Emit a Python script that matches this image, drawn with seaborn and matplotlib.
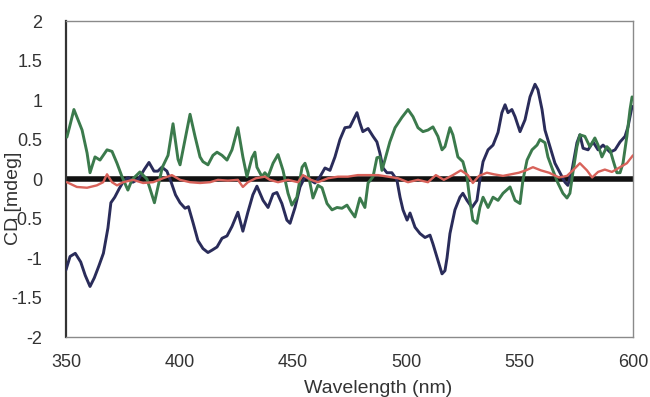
import numpy as np
import pandas as pd
import matplotlib
matplotlib.use("Agg")
import matplotlib.pyplot as plt
import seaborn as sns

# CD spectra (mdeg) versus wavelength (nm)
navy_nm = [350.0, 351.8, 354.1, 356.5, 358.5, 360.6, 362.5, 364.5, 366.5, 368.5,
           369.8, 371.5, 373.5, 375.5, 377.5, 379.5, 382.0, 384.5, 386.6, 388.8,
           390.5, 392.3, 394.5, 396.5, 398.3, 400.3, 402.5, 404.0, 406.0, 408.2,
           410.4, 412.6, 414.4, 416.6, 418.8, 421.0, 423.2, 425.8, 428.0, 430.2,
           432.4, 434.2, 436.9, 439.1, 441.3, 443.0, 445.2, 447.4, 448.8, 451.0,
           453.2, 455.4, 457.6, 459.8, 462.0, 464.2, 466.4, 468.6, 470.8, 473.0,
           475.2, 478.3, 479.6, 480.9, 483.2, 485.4, 487.1, 488.4, 489.8, 491.5,
           493.7, 495.9, 497.3, 498.6, 500.4, 501.7, 503.9, 506.1, 508.3, 510.5,
           511.8, 514.0, 515.8, 517.1, 518.0, 519.3, 521.5, 523.7, 525.0, 526.8,
           529.0, 531.2, 532.5, 533.9, 536.1, 538.3, 540.5, 542.2, 543.6, 544.9,
           546.6, 548.0, 550.2, 552.4, 554.6, 556.8, 558.1, 559.9, 561.2, 563.4,
           565.6, 567.8, 570.0, 571.3, 573.1, 575.3, 576.6, 578.0, 580.2, 582.4,
           584.6, 586.8, 589.9, 592.1, 594.3, 596.5, 597.8, 599.6]
navy_cd = [-1.15, -0.98, -0.94, -1.05, -1.22, -1.36, -1.25, -1.10, -0.94, -0.62,
           -0.30, -0.23, -0.12, -0.02, 0.02, -0.04, 0.00, 0.12, 0.21, 0.10,
           0.10, 0.15, 0.10, -0.05, -0.20, -0.30, -0.37, -0.35, -0.55, -0.78,
           -0.88, -0.93, -0.90, -0.86, -0.75, -0.72, -0.60, -0.42, -0.66, -0.42,
           -0.20, -0.09, -0.27, -0.36, -0.19, -0.17, -0.31, -0.52, -0.56, -0.36,
           -0.10, 0.03, -0.01, -0.05, 0.03, 0.14, 0.11, 0.28, 0.50, 0.65,
           0.66, 0.84, 0.71, 0.60, 0.64, 0.54, 0.47, 0.33, 0.14, 0.08,
           0.08, -0.01, -0.23, -0.39, -0.52, -0.43, -0.61, -0.69, -0.74, -0.71,
           -0.82, -1.03, -1.20, -1.16, -1.00, -0.69, -0.39, -0.23, -0.18, -0.27,
           -0.36, -0.27, -0.01, 0.22, 0.37, 0.43, 0.59, 0.84, 0.94, 0.84,
           0.88, 0.79, 0.60, 0.75, 1.04, 1.20, 1.13, 0.88, 0.62, 0.41,
           0.20, 0.08, -0.04, -0.08, 0.11, 0.46, 0.56, 0.39, 0.37, 0.47,
           0.37, 0.43, 0.34, 0.37, 0.47, 0.54, 0.66, 0.92]

green_nm = [350.4, 351.5, 353.5, 356.0, 357.1, 359.3, 360.6, 362.8, 365.0, 368.1,
            370.3, 372.5, 374.7, 377.3, 379.1, 382.6, 385.7, 389.0, 392.5, 395.0,
            397.2, 399.4, 400.3, 404.7, 406.9, 409.1, 410.4, 412.6, 414.8, 416.6,
            418.8, 421.0, 423.2, 425.8, 428.0, 429.8, 432.0, 433.3, 434.2, 436.4,
            437.7, 439.1, 441.3, 443.5, 445.7, 447.9, 449.6, 451.8, 454.1, 455.4,
            456.7, 458.9, 461.1, 462.9, 465.1, 467.3, 469.5, 471.7, 473.9, 475.2,
            477.4, 479.6, 481.8, 483.2, 485.4, 487.1, 488.4, 489.3, 490.6, 492.8,
            495.1, 498.1, 500.8, 503.0, 505.2, 507.4, 509.6, 511.8, 514.0, 515.8,
            517.1, 519.3, 520.6, 522.8, 525.0, 526.8, 528.1, 529.4, 531.2, 532.5,
            533.9, 536.1, 538.3, 540.5, 542.7, 545.8, 548.0, 550.2, 551.5, 553.3,
            555.5, 557.7, 559.0, 561.2, 562.5, 564.7, 566.9, 569.1, 570.9, 572.2,
            573.5, 575.3, 576.6, 578.8, 581.0, 583.2, 584.6, 586.3, 588.5, 589.9,
            591.2, 592.9, 594.3, 595.6, 597.3, 598.7, 599.6]
green_cd = [0.53, 0.65, 0.88, 0.70, 0.62, 0.33, 0.08, 0.28, 0.24, 0.37,
            0.35, 0.20, 0.03, -0.14, -0.01, 0.09, 0.00, -0.30, 0.15, 0.30,
            0.70, 0.25, 0.18, 0.82, 0.54, 0.28, 0.22, 0.18, 0.30, 0.34,
            0.30, 0.24, 0.37, 0.65, 0.28, 0.03, 0.27, 0.34, 0.15, 0.03,
            0.08, 0.03, 0.20, 0.31, 0.11, -0.18, -0.33, -0.23, 0.15, 0.20,
            0.08, -0.24, -0.08, -0.11, -0.31, -0.39, -0.36, -0.37, -0.33, -0.39,
            -0.48, -0.24, -0.36, -0.05, 0.03, 0.27, 0.28, 0.11, 0.24, 0.47,
            0.65, 0.78, 0.88, 0.79, 0.65, 0.60, 0.62, 0.66, 0.54, 0.37,
            0.41, 0.65, 0.56, 0.28, 0.22, 0.03, -0.27, -0.52, -0.56, -0.36,
            -0.23, -0.36, -0.23, -0.27, -0.18, -0.10, -0.27, -0.31, -0.01, 0.24,
            0.37, 0.43, 0.50, 0.46, 0.28, 0.11, -0.05, -0.18, -0.24, -0.18,
            0.08, 0.41, 0.56, 0.54, 0.41, 0.52, 0.43, 0.28, 0.41, 0.37,
            0.24, 0.08, 0.08, 0.20, 0.54, 0.88, 1.04]

red_nm = [350.4, 354.8, 359.3, 363.6, 366.4, 368.1, 370.3, 372.5, 375.2, 379.6,
          384.0, 388.4, 392.8, 396.7, 400.3, 404.7, 409.1, 413.5, 417.0, 421.4,
          425.8, 428.0, 430.2, 433.7, 437.7, 439.9, 443.5, 447.9, 452.3, 454.5,
          458.0, 461.1, 465.5, 469.9, 474.3, 478.7, 483.2, 487.6, 492.0, 496.4,
          500.8, 505.2, 509.6, 513.1, 516.6, 520.6, 524.1, 527.2, 529.4, 532.1,
          535.6, 538.7, 542.7, 546.2, 549.7, 552.8, 555.9, 559.4, 563.0, 567.4,
          570.9, 573.5, 576.6, 579.7, 582.0, 584.6, 587.6, 590.7, 594.3, 597.3,
          600.0]
red_cd = [-0.04, -0.10, -0.11, -0.08, -0.04, 0.06, -0.04, -0.08, -0.04, -0.01,
          -0.05, -0.04, 0.01, 0.05, -0.01, -0.04, -0.05, -0.04, -0.01, -0.02,
          -0.01, -0.10, -0.04, 0.01, 0.03, -0.01, -0.04, -0.01, -0.04, 0.05,
          -0.01, -0.04, 0.01, 0.03, 0.03, 0.05, 0.05, 0.05, 0.03, 0.01,
          -0.04, -0.01, -0.04, 0.05, -0.01, 0.05, 0.11, 0.05, -0.05, 0.04,
          0.08, 0.06, 0.04, 0.06, 0.08, 0.11, 0.15, 0.11, 0.08, 0.02,
          0.04, 0.11, 0.20, 0.11, 0.02, 0.09, 0.12, 0.09, 0.15, 0.20,
          0.30]

baseline_nm = [350, 600]
baseline_cd = [0.0, 0.0]

x_ticks = [350, 400, 450, 500, 550, 600]
y_ticks = [-2, -1.5, -1, -0.5, 0, 0.5, 1, 1.5, 2]
y_tick_labels = ["-2", "-1.5", "-1", "-0.5", "0", "0.5", "1", "1.5", "2"]

sns.set_theme(style="white")
plt.rcParams["font.family"] = ["Liberation Sans", "DejaVu Sans"]

df = pd.concat([
    pd.DataFrame({"nm": navy_nm, "cd": navy_cd, "series": "A"}),
    pd.DataFrame({"nm": green_nm, "cd": green_cd, "series": "B"}),
    pd.DataFrame({"nm": red_nm, "cd": red_cd, "series": "C"}),
], ignore_index=True)

fig = plt.figure(figsize=(6.5, 3.97), dpi=100)
ax = fig.add_axes([0.1015, 0.151, 0.8723, 0.796])

# thick zero baseline
sns.lineplot(x=baseline_nm, y=baseline_cd, ax=ax, color="#111111", lw=4.0,
             solid_capstyle="butt", zorder=2)

palette = {"A": "#2a2c5a", "B": "#3b7a4c", "C": "#d8625a"}
widths = {"A": 2.1, "B": 2.1, "C": 1.7}
for name in ["A", "B", "C"]:
    sub = df[df["series"] == name]
    sns.lineplot(data=sub, x="nm", y="cd", ax=ax, color=palette[name],
                 lw=widths[name], sort=False, estimator=None, zorder=3,
                 legend=False)

ax.set_xlim(350, 600)
ax.set_ylim(-2, 2)
ax.set_xticks(x_ticks)
ax.set_xticklabels([str(t) for t in x_ticks])
ax.set_yticks(y_ticks)
ax.set_yticklabels(y_tick_labels)
ax.tick_params(axis="both", labelsize=13, colors="#333333", length=3,
               width=1, direction="out")
ax.tick_params(axis="y", pad=14)
ax.tick_params(axis="x", pad=12, length=0)

for side in ["top", "right", "bottom"]:
    ax.spines[side].set_color("#8a8a8a")
    ax.spines[side].set_linewidth(1.0)
ax.spines["left"].set_color("#333333")
ax.spines["left"].set_linewidth(1.6)

ax.set_xlabel("Wavelength (nm)", fontsize=14, color="#333333")
ax.xaxis.set_label_coords(0.55, -0.135)
ax.set_ylabel("CD [mdeg]", fontsize=14, color="#333333")
ax.yaxis.set_label_coords(-0.078, 0.44)
ax.grid(False)

fig.savefig("out.png", dpi=100)
